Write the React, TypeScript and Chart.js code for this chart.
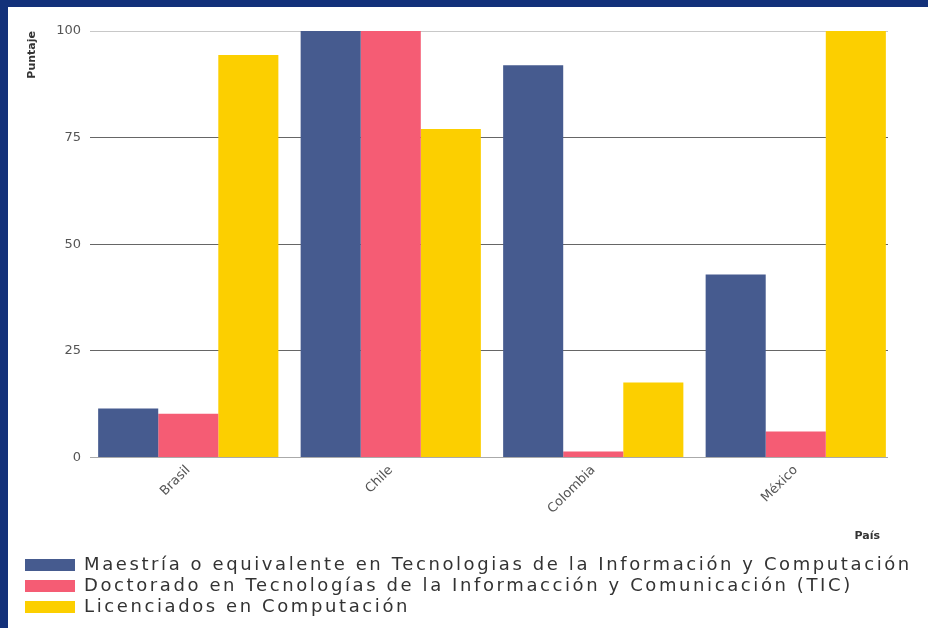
import React, { useEffect, useRef } from "react";
import { Chart, registerables } from "chart.js";

Chart.register(...registerables);

const categories = ["Brasil", "Chile", "Colombia", "México"];
const maestria = [11.5, 100, 92, 42.9];
const doctorado = [10.3, 100, 1.4, 6.1];
const licenciados = [94.4, 77, 17.6, 100];
const seriesLabels = [
  "Maestría o equivalente en Tecnologias de la Información y Computación",
  "Doctorado en Tecnologías de la Informacción y Comunicación (TIC)",
  "Licenciados en Computación",
];
const yTicks = [0, 25, 50, 75, 100];
const LEGEND_SPACING = "2.6px";

// the category band runs slightly past the grid lines on the right, as in the original
const stretchX = {
  id: "stretchX",
  afterLayout(chart: any) {
    const x = chart.scales.x;
    if (!x) return;
    x.left = chart.chartArea.left - 3;
    x.right = chart.chartArea.right + 9;
    x.width = x.right - x.left;
    x.configure();
    if (!x.__titlePatched) {
      x.__titlePatched = true;
      const origDT = x.drawTitle.bind(x);
      x.drawTitle = function (...args: any[]) {
        const r = x.right;
        x.right = r - 17;
        const res = origDT(...args);
        x.right = r;
        return res;
      };
    }
  },
};

export default function App() {
  const ref = useRef<HTMLCanvasElement | null>(null);
  useEffect(() => {
    if (!ref.current) return;
    const chart = new Chart(ref.current, {
      type: "bar",
      data: {
        labels: categories,
        datasets: [
          { label: seriesLabels[0], data: maestria, backgroundColor: "#465b8f" },
          { label: seriesLabels[1], data: doctorado, backgroundColor: "#f55c74" },
          { label: seriesLabels[2], data: licenciados, backgroundColor: "#fccf00" },
        ],
      },
      plugins: [stretchX],
      options: {
        responsive: false,
        animation: false,
        layout: { padding: { left: 14, right: 40, top: 24, bottom: 2 } },
        datasets: { bar: { categoryPercentage: 0.89, barPercentage: 1.0 } },
        plugins: {
          tooltip: { enabled: false },
          legend: {
            position: "bottom",
            align: "start",
            labels: {
              boxWidth: 50,
              boxHeight: 12,
              padding: 3,
              color: "#333333",
              font: { family: "DejaVu Sans", size: 18 },
            },
          },
        },
        scales: {
          x: {
            grid: { display: false },
            border: { display: false },
            ticks: {
              color: "#555555",
              font: { family: "DejaVu Sans", size: 13 },
              maxRotation: 45,
              minRotation: 45,
              padding: -3,
            },
            title: {
              display: true,
              text: "País",
              align: "end",
              color: "#333333",
              font: { family: "DejaVu Sans", size: 11, weight: "bold" },
              padding: { top: 16, bottom: 10 },
            },
          },
          y: {
            min: 0,
            max: 100,
            afterBuildTicks: (axis: any) => {
              axis.ticks = yTicks.map((v) => ({ value: v }));
            },
            grid: {
              drawTicks: false,
              color: (ctx: any) => {
                const v = ctx.tick && ctx.tick.value;
                if (v === 100) return "#c8c8c8";
                if (v === 0) return "#aaaaaa";
                return "#666666";
              },
            },
            border: { display: false },
            ticks: {
              color: "#555555",
              font: { family: "DejaVu Sans", size: 13 },
              padding: 9,
            },
            title: {
              display: true,
              text: "Puntaje",
              align: "end",
              color: "#333333",
              font: { family: "DejaVu Sans", size: 11, weight: "bold" },
              padding: { top: 4, bottom: 8 },
            },
          },
        },
      },
    });
    const lg: any = (chart as any).legend;
    if (lg) {
      const origFit = lg.fit.bind(lg);
      lg.fit = function () {
        const ctx: any = lg.ctx;
        const prev = ctx.letterSpacing;
        ctx.letterSpacing = LEGEND_SPACING;
        const r = origFit();
        ctx.letterSpacing = prev;
        return r;
      };
      const origDraw = lg.draw.bind(lg);
      lg.draw = function (...args: any[]) {
        const ctx: any = lg.ctx;
        const prev = ctx.letterSpacing;
        const r0 = lg.right;
        const w0 = lg.width;
        lg.right = chart.width;
        lg.width = lg.right - lg.left;
        ctx.letterSpacing = LEGEND_SPACING;
        const r = origDraw(...args);
        ctx.letterSpacing = prev;
        lg.right = r0;
        lg.width = w0;
        return r;
      };
      chart.update();
    }
    return () => chart.destroy();
  }, []);

  return (
    <div
      style={{
        position: "fixed",
        left: 0,
        top: 0,
        width: 928,
        height: 628,
        background: "#13317a",
      }}
    >
      <div
        style={{
          position: "absolute",
          left: 8,
          top: 7,
          width: 920,
          height: 621,
          background: "#ffffff",
        }}
      >
        <canvas ref={ref} width={920} height={621} style={{ display: "block" }} />
      </div>
    </div>
  );
}
